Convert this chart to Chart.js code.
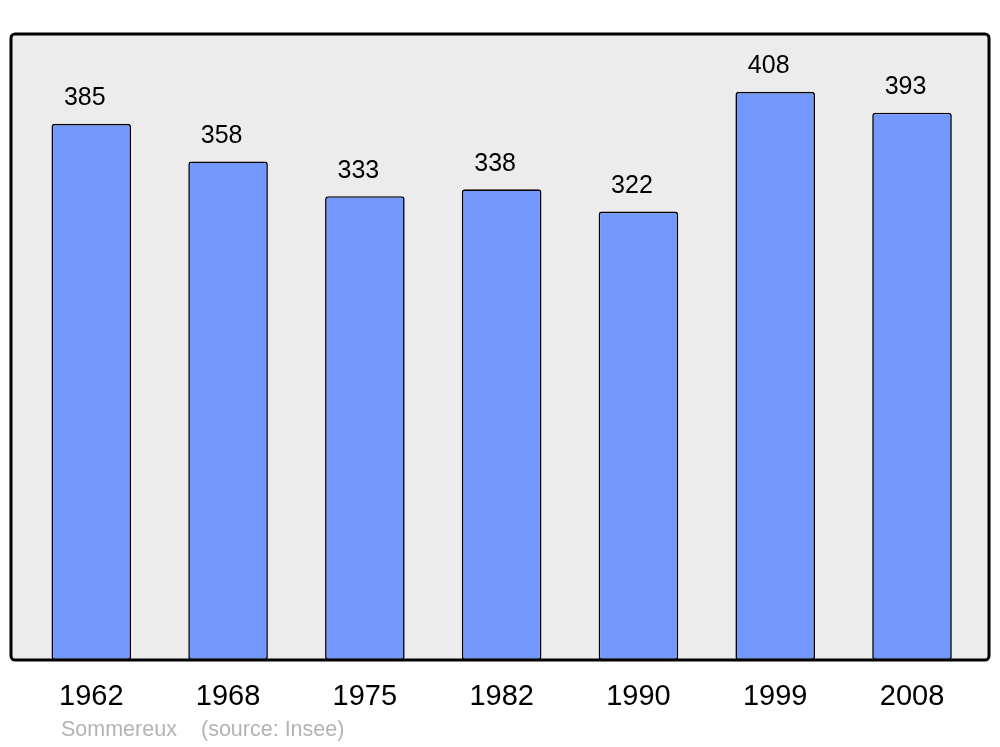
<!DOCTYPE html>
<html>
<head>
<meta charset="utf-8">
<script src="https://cdn.jsdelivr.net/npm/chart.js@4/dist/chart.umd.min.js"></script>
<style>
html,body{margin:0;padding:0;background:#fff;}
#wrap{width:1000px;height:747px;position:relative;}
</style>
</head>
<body>
<div id="wrap"><canvas id="c" width="1000" height="747"></canvas></div>
<script>
const years = ['1962','1968','1975','1982','1990','1999','2008'];
const population = [385, 358, 333, 338, 322, 408, 393];
const placeName = 'Sommereux';
const sourceText = '(source: Insee)';

const FONT = '"Liberation Sans", Arial, sans-serif';

const framePlugin = {
  id: 'frame',
  beforeDraw(chart) {
    const {ctx, chartArea} = chart;
    const x0 = chartArea.left - 11.9, x1 = chartArea.right + 8.6;
    const y0 = chartArea.top, y1 = chartArea.bottom;
    ctx.save();
    ctx.beginPath();
    ctx.roundRect(x0, y0, x1 - x0, y1 - y0, 4);
    ctx.fillStyle = '#ececec';
    ctx.fill();
    ctx.restore();
  },
  afterDatasetsDraw(chart) {
    const {ctx, chartArea} = chart;
    const x0 = chartArea.left - 11.9, x1 = chartArea.right + 8.6;
    const y0 = chartArea.top, y1 = chartArea.bottom;
    ctx.save();
    ctx.beginPath();
    ctx.roundRect(x0, y0, x1 - x0, y1 - y0, 4);
    ctx.lineWidth = 3;
    ctx.strokeStyle = '#000';
    ctx.stroke();
    // value labels
    const meta = chart.getDatasetMeta(0);
    ctx.fillStyle = '#000';
    ctx.font = '25px ' + FONT;
    ctx.textAlign = 'center';
    ctx.textBaseline = 'middle';
    meta.data.forEach((bar, i) => {
      ctx.fillText(String(chart.data.datasets[0].data[i]), bar.x - 6.5, bar.y - 25.5);
    });
    // footer
    ctx.fillStyle = '#b3b3b3';
    ctx.font = '21.5px ' + FONT;
    ctx.textAlign = 'left';
    ctx.fillText(placeName, 61, 730);
    ctx.fillText(sourceText, 201, 730);
    ctx.restore();
  }
};

new Chart(document.getElementById('c'), {
  type: 'bar',
  data: {
    labels: years,
    datasets: [{
      data: population,
      backgroundColor: '#7399ff',
      borderColor: '#000',
      borderWidth: 1.6,
      borderRadius: 3,
      borderSkipped: false,
      barPercentage: 0.582,
      categoryPercentage: 1.0
    }]
  },
  options: {
    responsive: false,
    animation: false,
    devicePixelRatio: 1,
    layout: { padding: { left: 22.9, right: 19.6, top: 34, bottom: 0 } },
    plugins: { legend: { display: false }, tooltip: { enabled: false } },
    scales: {
      x: {
        grid: { display: false, drawTicks: false },
        border: { display: false },
        ticks: { color: '#000', font: { family: FONT, size: 29 }, padding: 20, maxRotation: 0 },
        afterFit(scale) { scale.height = 87; }
      },
      y: {
        display: false,
        min: 0,
        max: 449.5
      }
    }
  },
  plugins: [framePlugin]
});
</script>
</body>
</html>
